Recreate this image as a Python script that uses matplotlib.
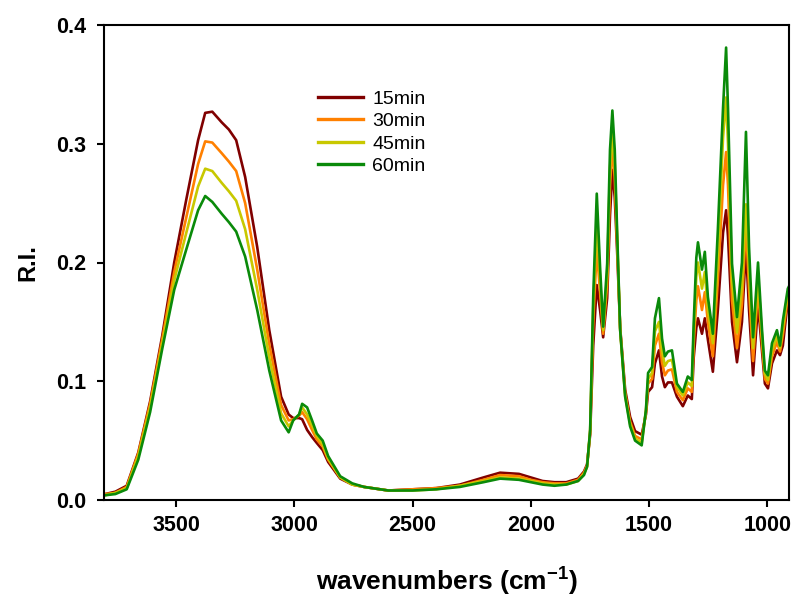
import matplotlib
matplotlib.use('Agg')
import matplotlib.pyplot as plt
import numpy as np

# wavenumbers (cm-1), high -> low
wavenumber = [3800, 3757, 3709, 3660, 3610, 3559, 3508, 3457, 3407, 3377,
              3347, 3307, 3277, 3246, 3208, 3157, 3106, 3056, 3024, 3005,
              2980, 2967, 2946, 2925, 2905, 2880, 2857, 2806, 2755, 2705,
              2603, 2500, 2400, 2300, 2200, 2130, 2050, 2000, 1950, 1900,
              1850, 1800, 1775,
              1762, 1749, 1736, 1721, 1707, 1694, 1677, 1665, 1655, 1645,
              1635, 1622, 1601, 1580, 1559, 1531, 1513, 1504, 1487, 1475,
              1458, 1445, 1433, 1420, 1403, 1382, 1357, 1336, 1319, 1311,
              1300, 1293, 1276, 1264, 1251, 1230, 1209, 1187, 1174, 1166,
              1149, 1128, 1107, 1090, 1077, 1060, 1039, 1022, 1010, 997,
              980, 959, 946, 934, 913, 908]

ri_15 = [0.005, 0.007, 0.012, 0.040, 0.083, 0.138, 0.200, 0.253, 0.303, 0.326,
         0.327, 0.318, 0.312, 0.303, 0.272, 0.213, 0.143, 0.087, 0.072, 0.069,
         0.069, 0.068, 0.059, 0.053, 0.048, 0.042, 0.032, 0.018, 0.013, 0.011,
         0.008, 0.009, 0.010, 0.013, 0.019, 0.023, 0.022, 0.019, 0.016, 0.015,
         0.015, 0.018, 0.024,
         0.030, 0.055, 0.130, 0.181, 0.160, 0.137, 0.170, 0.240, 0.278, 0.255,
         0.210, 0.145, 0.093, 0.070, 0.058, 0.055, 0.072, 0.091, 0.095, 0.115,
         0.126, 0.104, 0.095, 0.099, 0.099, 0.087, 0.079, 0.088, 0.085, 0.120,
         0.145, 0.153, 0.140, 0.153, 0.135, 0.108, 0.160, 0.225, 0.244, 0.222,
         0.150, 0.116, 0.150, 0.213, 0.160, 0.105, 0.165, 0.125, 0.098, 0.094,
         0.115, 0.126, 0.122, 0.130, 0.168, 0.170]

ri_30 = [0.005, 0.006, 0.011, 0.039, 0.081, 0.135, 0.192, 0.238, 0.283, 0.302,
         0.301, 0.292, 0.285, 0.277, 0.250, 0.194, 0.131, 0.080, 0.067, 0.068,
         0.071, 0.074, 0.068, 0.059, 0.051, 0.045, 0.034, 0.019, 0.013, 0.011,
         0.008, 0.009, 0.010, 0.012, 0.017, 0.021, 0.020, 0.017, 0.015, 0.014,
         0.014, 0.017, 0.023,
         0.029, 0.057, 0.150, 0.211, 0.175, 0.140, 0.182, 0.265, 0.297, 0.272,
         0.218, 0.144, 0.090, 0.066, 0.054, 0.051, 0.074, 0.098, 0.102, 0.130,
         0.140, 0.116, 0.105, 0.109, 0.110, 0.091, 0.084, 0.094, 0.091, 0.132,
         0.168, 0.180, 0.160, 0.175, 0.150, 0.121, 0.185, 0.265, 0.293, 0.265,
         0.168, 0.128, 0.165, 0.233, 0.178, 0.117, 0.178, 0.132, 0.102, 0.098,
         0.121, 0.133, 0.125, 0.139, 0.172, 0.174]

ri_45 = [0.004, 0.006, 0.010, 0.037, 0.078, 0.131, 0.185, 0.225, 0.264, 0.279,
         0.277, 0.267, 0.260, 0.252, 0.228, 0.177, 0.120, 0.073, 0.062, 0.067,
         0.072, 0.078, 0.072, 0.063, 0.054, 0.047, 0.035, 0.019, 0.013, 0.011,
         0.008, 0.008, 0.009, 0.012, 0.016, 0.019, 0.018, 0.016, 0.014, 0.013,
         0.013, 0.016, 0.022,
         0.028, 0.058, 0.162, 0.236, 0.186, 0.143, 0.190, 0.280, 0.309, 0.283,
         0.222, 0.143, 0.088, 0.064, 0.052, 0.048, 0.075, 0.102, 0.107, 0.142,
         0.150, 0.126, 0.113, 0.117, 0.118, 0.095, 0.088, 0.099, 0.096, 0.140,
         0.188, 0.200, 0.178, 0.192, 0.160, 0.132, 0.205, 0.305, 0.339, 0.300,
         0.185, 0.141, 0.180, 0.249, 0.195, 0.128, 0.188, 0.138, 0.106, 0.101,
         0.126, 0.138, 0.128, 0.145, 0.175, 0.177]

ri_60 = [0.004, 0.005, 0.009, 0.034, 0.074, 0.127, 0.177, 0.211, 0.244, 0.256,
         0.251, 0.241, 0.234, 0.226, 0.205, 0.160, 0.109, 0.067, 0.057, 0.067,
         0.072, 0.081, 0.078, 0.067, 0.056, 0.050, 0.037, 0.020, 0.014, 0.011,
         0.008, 0.008, 0.009, 0.011, 0.015, 0.018, 0.017, 0.015, 0.013, 0.012,
         0.013, 0.016, 0.021,
         0.028, 0.059, 0.171, 0.258, 0.196, 0.146, 0.199, 0.295, 0.328, 0.295,
         0.227, 0.143, 0.087, 0.062, 0.050, 0.046, 0.076, 0.107, 0.112, 0.153,
         0.170, 0.136, 0.121, 0.125, 0.126, 0.098, 0.091, 0.104, 0.101, 0.149,
         0.204, 0.217, 0.194, 0.209, 0.171, 0.140, 0.227, 0.330, 0.381, 0.330,
         0.199, 0.154, 0.200, 0.310, 0.213, 0.137, 0.200, 0.143, 0.109, 0.105,
         0.132, 0.143, 0.130, 0.151, 0.178, 0.180]

labels = ['15min', '30min', '45min', '60min']
colors = ['#800000', '#FF8000', '#C8C800', '#0A8A0A']

plt.rcParams['font.family'] = ['Liberation Sans', 'DejaVu Sans']
plt.rcParams['mathtext.fontset'] = 'custom'
plt.rcParams['mathtext.bf'] = 'Liberation Sans:bold'
plt.rcParams['mathtext.rm'] = 'Liberation Sans:bold'

fig = plt.figure(figsize=(7.92, 6.02), dpi=100)
ax = fig.add_axes([104/792, 1 - 500/602, 685/792, 475/602])

for ys, lab, col in zip([ri_15, ri_30, ri_45, ri_60], labels, colors):
    ax.plot(wavenumber, ys, color=col, lw=1.9, label=lab)

ax.set_xlim(3805, 908)
ax.set_ylim(0, 0.4)
ax.set_xticks([3500, 3000, 2500, 2000, 1500, 1000])
ax.set_yticks([0.0, 0.1, 0.2, 0.3, 0.4])
ax.set_yticklabels(['0.0', '0.1', '0.2', '0.3', '0.4'])

for s in ax.spines.values():
    s.set_linewidth(1.5)
ax.tick_params(direction='out', length=5, width=1.5, labelsize=15.5)
ax.tick_params(axis='x', pad=6)
ax.tick_params(axis='y', pad=8)
for t in ax.get_xticklabels() + ax.get_yticklabels():
    t.set_fontweight('bold')

ax.set_ylabel('R.I.', fontsize=17, fontweight='bold', labelpad=12)
ax.set_xlabel('wavenumbers (cm$^{\\mathrm{-1}}$)', fontsize=19, fontweight='bold', labelpad=20)

ax.legend(loc='upper left', bbox_to_anchor=(318/792, 1 - 90/602),
          bbox_transform=fig.transFigure, frameon=False, fontsize=14,
          handlelength=2.3, handletextpad=0.5, labelspacing=0.25,
          borderpad=0, borderaxespad=0)
for line in ax.get_legend().get_lines():
    line.set_linewidth(2.4)

fig.savefig('out.png', dpi=100)
